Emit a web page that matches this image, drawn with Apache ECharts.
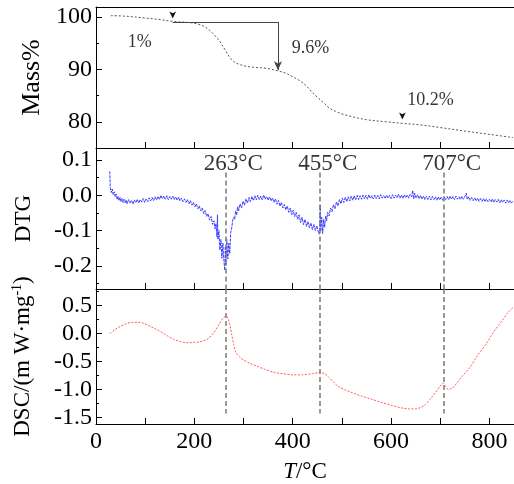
<!DOCTYPE html>
<html>
<head>
<meta charset="utf-8">
<script src="https://cdn.jsdelivr.net/npm/echarts@6/dist/echarts.min.js"></script>
<style>
  html, body { margin: 0; padding: 0; background: #fff; }
  #chart { width: 514px; height: 484px; }
</style>
</head>
<body>
<div id="chart"></div>
<script>
// Temperature axis (shared by the three panels)
const tempRange = [0, 850];
const tempTicks = [0, 100, 200, 300, 400, 500, 600, 700, 800];
const tempLabels = [0, 200, 400, 600, 800];

// TG panel: mass %
const massRange = [75, 101.9];
const massTicks = [80, 90, 100];
const massMinorTicks = [85, 95];
const tgData = [
  [30, 100.25], [60, 100.15], [100, 99.8], [130, 99.5], [156, 99.15], [180, 99.0],
  [200, 98.8], [215, 98.4], [225, 97.9], [235, 97.1], [245, 96.1], [252, 95.3],
  [262, 93.8], [272, 92.3], [280, 91.5], [290, 91.0], [305, 90.6], [320, 90.4],
  [347, 90.2], [370, 89.7], [385, 89.3], [400, 88.6], [415, 87.8], [428, 86.8],
  [440, 85.6], [450, 84.7], [462, 83.7], [475, 82.6], [487, 82.0], [500, 81.5],
  [520, 81.0], [550, 80.4], [590, 80.0], [623, 79.7], [660, 79.4], [700, 78.9],
  [752, 78.2], [800, 77.6], [848, 77.0]
];
// Mass-loss steps: bracket from 156 °C to 370 °C, and step markers
const stepTemps = [156, 370];
const stepLevels = [99.05, 89.85];
const stepMarkers = [[156, 99.05], [623, 79.75]];
const stepLabels = [
  { name: '1%', value: [89, 95.2] },
  { name: '9.6%', value: [436, 94.1] },
  { name: '10.2%', value: [680, 84.2] }
];

// DTG panel
const dtgRange = [-0.265, 0.134];
const dtgTicks = [-0.2, -0.1, 0.0, 0.1];
const dtgMinorTicks = [-0.25, -0.15, -0.05, 0.05];
const dtgData = [
  [28, 0.068], [29, 0.022], [31, 0.008], [33, 0.018], [35, 0.002], [37, 0.010], [39, -0.004],
  [41, 0.004], [43, -0.012], [45, -0.003], [47, -0.015], [49, -0.006], [51, -0.018], [53, -0.009],
  [55, -0.020], [57, -0.011], [59, -0.021], [61, -0.013], [63, -0.024], [66, -0.012], [69, -0.022],
  [72, -0.014], [75, -0.025], [78, -0.013], [81, -0.021], [84, -0.011], [87, -0.022], [90, -0.012],
  [93, -0.019], [96, -0.009], [99, -0.020], [102, -0.010], [105, -0.018], [108, -0.007], [111, -0.016],
  [114, -0.006], [117, -0.015], [120, -0.004], [123, -0.013], [126, -0.003], [129, -0.012], [132, 0.000],
  [135, -0.010], [138, -0.002], [141, -0.011], [144, -0.001], [147, -0.012], [150, -0.003], [153, -0.011],
  [156, -0.002], [159, -0.012], [162, -0.004], [165, -0.014], [168, -0.005], [171, -0.016], [174, -0.008],
  [177, -0.018], [180, -0.010], [183, -0.020], [186, -0.012], [189, -0.024], [192, -0.015], [195, -0.028],
  [198, -0.020], [201, -0.032], [204, -0.024], [207, -0.038], [210, -0.030], [213, -0.044], [216, -0.036],
  [219, -0.052], [222, -0.043], [225, -0.060], [228, -0.052], [231, -0.070], [234, -0.060], [237, -0.082],
  [240, -0.072], [242, -0.095], [244, -0.080], [246, -0.118], [247, -0.055], [248, -0.125], [250, -0.100],
  [252, -0.155], [254, -0.125], [256, -0.178], [258, -0.135], [260, -0.185], [262, -0.212], [263, -0.145],
  [264, -0.195], [266, -0.125], [268, -0.180], [270, -0.135], [272, -0.165], [274, -0.105], [276, -0.092],
  [278, -0.070], [280, -0.062], [282, -0.068], [284, -0.044], [286, -0.056], [288, -0.032], [290, -0.044],
  [293, -0.024], [296, -0.036], [299, -0.016], [302, -0.028], [305, -0.010], [308, -0.022], [311, -0.006],
  [314, -0.018], [317, -0.003], [320, -0.015], [323, -0.001], [326, -0.013], [329, 0.000], [332, -0.012],
  [335, -0.002], [338, -0.013], [341, 0.001], [344, -0.011], [347, -0.003], [350, -0.014], [353, -0.004],
  [356, -0.016], [359, -0.007], [362, -0.020], [365, -0.010], [368, -0.025], [371, -0.014], [374, -0.031],
  [377, -0.020], [380, -0.036], [383, -0.026], [386, -0.041], [389, -0.030], [392, -0.048], [395, -0.036],
  [398, -0.055], [401, -0.042], [404, -0.060], [407, -0.048], [410, -0.068], [413, -0.055], [416, -0.077],
  [419, -0.062], [422, -0.083], [425, -0.068], [428, -0.088], [431, -0.074], [434, -0.092], [437, -0.078],
  [440, -0.097], [443, -0.082], [446, -0.100], [449, -0.086], [452, -0.104], [454, -0.110], [455, -0.090],
  [456, -0.028], [457, -0.102], [459, -0.062], [461, -0.108], [463, -0.068], [465, -0.090], [467, -0.058],
  [469, -0.072], [471, -0.048], [474, -0.058], [477, -0.036], [480, -0.046], [483, -0.026], [486, -0.038],
  [489, -0.018], [492, -0.030], [495, -0.012], [498, -0.024], [501, -0.008], [504, -0.020], [507, -0.005],
  [510, -0.018], [513, -0.004], [516, -0.016], [519, -0.002], [522, -0.014], [525, -0.001], [528, -0.013],
  [531, 0.000], [534, -0.012], [537, -0.001], [540, -0.011], [543, 0.001], [546, -0.010], [549, 0.000],
  [552, -0.011], [555, 0.002], [558, -0.009], [561, -0.001], [564, -0.010], [567, 0.001], [570, -0.009],
  [573, 0.000], [576, -0.010], [579, 0.002], [582, -0.008], [585, -0.001], [588, -0.009], [591, 0.001],
  [594, -0.008], [597, 0.000], [600, -0.009], [603, 0.002], [606, -0.008], [609, 0.001], [612, -0.007],
  [615, 0.003], [618, -0.008], [621, 0.001], [624, -0.009], [627, 0.002], [630, -0.007], [633, 0.001],
  [636, -0.008], [639, 0.003], [642, -0.004], [644, 0.014], [646, -0.010], [648, 0.006], [651, -0.008],
  [654, 0.002], [657, -0.010], [660, 0.000], [663, -0.011], [666, -0.002], [669, -0.012], [672, -0.003],
  [675, -0.012], [678, -0.002], [681, -0.013], [684, -0.003], [687, -0.012], [690, -0.004], [693, -0.014],
  [696, -0.004], [699, -0.013], [702, -0.005], [705, -0.014], [708, -0.004], [711, -0.012], [714, -0.003],
  [717, -0.012], [720, -0.002], [723, -0.011], [726, -0.003], [729, -0.012], [732, -0.002], [735, -0.011],
  [738, -0.004], [741, -0.012], [744, -0.003], [747, -0.011], [750, -0.004], [753, 0.006], [755, -0.012],
  [758, -0.004], [761, -0.014], [764, -0.006], [767, -0.015], [770, -0.007], [773, -0.016], [776, -0.008],
  [779, -0.017], [782, -0.009], [785, -0.017], [788, -0.009], [791, -0.018], [794, -0.010], [797, -0.018],
  [800, -0.011], [803, -0.019], [806, -0.010], [809, -0.020], [812, -0.012], [815, -0.019], [818, -0.011],
  [821, -0.021], [824, -0.012], [827, -0.020], [830, -0.013], [833, -0.022], [836, -0.013], [839, -0.021],
  [842, -0.014], [845, -0.022], [848, -0.016]
];
const peakTemps = [263, 455, 707];
const peakLineTop = 0.065;

// DSC panel
const dscRange = [-1.62, 0.797];
const dscTicks = [-1.5, -1.0, -0.5, 0.0, 0.5];
const dscMinorTicks = [-1.25, -0.75, -0.25, 0.25, 0.75];
const dscData = [
  [28, 0.0], [40, 0.08], [50, 0.13], [60, 0.17], [73, 0.2], [85, 0.2], [94, 0.19],
  [110, 0.13], [128, 0.05], [145, -0.04], [157, -0.1], [170, -0.14], [184, -0.165],
  [200, -0.16], [211, -0.15], [222, -0.12], [231, -0.07], [240, 0.02], [248, 0.13],
  [258, 0.27], [264, 0.31], [268, 0.28], [272, 0.16], [276, -0.02], [280, -0.2],
  [285, -0.35], [292, -0.42], [299, -0.47], [312, -0.53], [326, -0.58], [343, -0.64],
  [360, -0.69], [380, -0.72], [400, -0.74], [420, -0.74], [440, -0.72], [455, -0.70],
  [465, -0.72], [473, -0.78], [483, -0.87], [493, -0.95], [507, -1.01], [521, -1.06],
  [540, -1.12], [562, -1.18], [583, -1.24], [603, -1.29], [620, -1.33], [637, -1.35],
  [650, -1.35], [661, -1.32], [670, -1.27], [679, -1.18], [690, -1.06], [699, -0.95],
  [706, -0.89], [711, -0.95], [716, -1.0], [721, -0.99], [726, -0.97], [746, -0.75],
  [760, -0.61], [777, -0.38], [794, -0.18], [808, 0.02], [825, 0.22], [839, 0.39],
  [849, 0.47]
];
const dscLineBottom = -1.433;

const FONT = "'Liberation Serif', 'Times New Roman', serif";
const tickLabelStyle = { color: '#000', fontFamily: FONT, fontSize: 24 };

function xAxisFor(gridIndex, withLabels) {
  return {
    type: 'value', gridIndex: gridIndex, position: 'bottom',
    min: tempRange[0], max: tempRange[1],
    axisLine: { show: true, onZero: false, lineStyle: { color: '#000', width: 1 } },
    axisTick: { show: true, inside: true, length: 6, customValues: tempTicks, lineStyle: { color: '#000' } },
    axisLabel: withLabels
      ? Object.assign({ show: true, margin: 6, customValues: tempLabels, formatter: v => String(v) }, tickLabelStyle)
      : { show: false },
    splitLine: { show: false },
    name: withLabels ? '{i|T}/°C' : '',
    nameLocation: 'middle', nameGap: 36,
    nameTextStyle: {
      color: '#000', fontFamily: FONT, fontSize: 23,
      rich: { i: { fontStyle: 'italic', fontFamily: FONT, fontSize: 23, color: '#000' } }
    }
  };
}

function yAxesFor(gridIndex, range, ticks, minor, digits, name, nameGap, nameStyle) {
  return [
    {
      type: 'value', gridIndex: gridIndex, position: 'left',
      min: range[0], max: range[1],
      axisLine: { show: true, onZero: false, lineStyle: { color: '#000', width: 1 } },
      axisTick: { show: true, inside: true, length: 6, customValues: ticks, lineStyle: { color: '#000' } },
      axisLabel: Object.assign({ show: true, margin: 4, customValues: ticks, formatter: v => v.toFixed(digits) }, tickLabelStyle),
      splitLine: { show: false },
      name: name, nameLocation: 'middle', nameGap: nameGap,
      nameTextStyle: nameStyle
    },
    {
      type: 'value', gridIndex: gridIndex, position: 'left', offset: 0,
      min: range[0], max: range[1],
      axisLine: { show: false },
      axisTick: { show: true, inside: true, length: 3, customValues: minor, lineStyle: { color: '#000' } },
      axisLabel: { show: false },
      splitLine: { show: false }
    }
  ];
}

const chart = echarts.init(document.getElementById('chart'), null, { renderer: 'canvas' });

const peakLineStyle = { color: '#7a7a7a', width: 1.5, type: [5, 3] };

chart.setOption({
  animation: false,
  backgroundColor: '#fff',
  grid: [
    { left: 96, top: 7, width: 419, height: 141 },
    { left: 96, top: 148, width: 419, height: 141 },
    { left: 96, top: 289, width: 419, height: 142 }
  ],
  xAxis: [
    xAxisFor(0, false),
    {
      type: 'value', gridIndex: 0, position: 'top',
      min: tempRange[0], max: tempRange[1],
      axisLine: { show: true, onZero: false, lineStyle: { color: '#000', width: 1 } },
      axisTick: { show: false }, axisLabel: { show: false }, splitLine: { show: false }
    },
    xAxisFor(1, false),
    xAxisFor(2, true)
  ],
  yAxis: [].concat(
    yAxesFor(0, massRange, massTicks, massMinorTicks, 0, 'Mass%', 51,
      { color: '#000', fontFamily: FONT, fontSize: 26 }),
    yAxesFor(1, dtgRange, dtgTicks, dtgMinorTicks, 1, 'DTG', 61,
      { color: '#000', fontFamily: FONT, fontSize: 23 }),
    yAxesFor(2, dscRange, dscTicks, dscMinorTicks, 1, 'DSC/(m W·mg{sup|-1})', 60,
      { color: '#000', fontFamily: FONT, fontSize: 23,
        rich: { sup: { fontFamily: FONT, fontSize: 14, color: '#000', verticalAlign: 'top', lineHeight: 26 } } })
  ),
  series: [
    {
      name: 'TG', type: 'line', xAxisIndex: 0, yAxisIndex: 0,
      data: tgData, showSymbol: false, smooth: 0.35,
      lineStyle: { color: '#555', width: 1, type: [2, 2] },
      markLine: {
        silent: true, symbol: 'none', label: { show: false },
        lineStyle: { color: '#444', width: 1, type: 'solid' },
        data: [
          [{ coord: [stepTemps[0], stepLevels[0]] }, { coord: [stepTemps[1], stepLevels[0]] }],
          [{ coord: [stepTemps[1], stepLevels[0]] },
           { coord: [stepTemps[1], stepLevels[1]], symbol: 'arrow', symbolSize: [6, 9] }]
        ]
      },
      markPoint: {
        silent: true, symbol: 'arrow', symbolRotate: 180, symbolSize: [5, 7],
        symbolOffset: [0, -3.5], label: { show: false },
        itemStyle: { color: '#111' },
        data: stepMarkers.map(p => ({ coord: p }))
      }
    },
    {
      name: 'steps', type: 'scatter', xAxisIndex: 0, yAxisIndex: 0,
      data: stepLabels, symbolSize: 0, silent: true,
      label: { show: true, position: 'inside', formatter: p => p.name,
        color: '#000', fontFamily: FONT, fontSize: 18 }
    },
    {
      name: 'DTG', type: 'line', xAxisIndex: 2, yAxisIndex: 2,
      data: dtgData, showSymbol: false,
      lineStyle: { color: '#3a3aff', width: 1, type: [3, 1] }
    },
    {
      name: 'peaks', type: 'scatter', xAxisIndex: 2, yAxisIndex: 2,
      data: peakTemps.map(t => [t, peakLineTop]), symbolSize: 0, silent: true,
      label: { show: true, position: 'top', distance: 1, offset: [8, 4],
        formatter: p => p.value[0] + '°C',
        color: '#000', fontFamily: FONT, fontSize: 23 },
      markLine: {
        silent: true, symbol: 'none', label: { show: false },
        lineStyle: peakLineStyle,
        data: peakTemps.map(t => [{ coord: [t, peakLineTop] }, { coord: [t, dtgRange[0]] }])
      }
    },
    {
      name: 'DSC', type: 'line', xAxisIndex: 3, yAxisIndex: 4,
      data: dscData, showSymbol: false, smooth: 0.3,
      lineStyle: { color: '#ff5a5a', width: 1, type: [2, 1.5] },
      markLine: {
        silent: true, symbol: 'none', label: { show: false },
        lineStyle: peakLineStyle,
        data: peakTemps.map(t => [{ coord: [t, dscRange[1]] }, { coord: [t, dscLineBottom] }])
      }
    }
  ]
});
</script>
</body>
</html>
